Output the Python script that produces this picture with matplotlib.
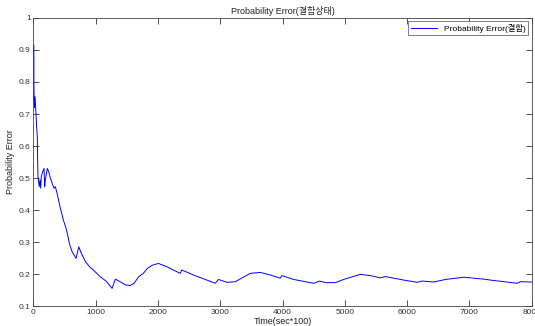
import numpy as np
import matplotlib
matplotlib.use("Agg")
import matplotlib.pyplot as plt

plt.rcParams['font.family'] = ['Liberation Sans', 'Noto Sans CJK KR']

# values
time = [0, 3, 6, 12, 25, 40, 50, 61, 67, 72, 93, 105, 116, 125, 148, 169, 180, 190,
        222, 244, 265, 297, 330, 350, 373, 426, 479, 523, 543, 576, 619, 683,
        727, 768, 833, 908, 961, 1069, 1177, 1262, 1315, 1391, 1476, 1551,
        1616, 1691, 1765, 1830, 1916, 2006, 2141, 2355, 2382, 2569, 2785,
        2918, 2971, 3106, 3240, 3481, 3642, 3802, 3963, 3990, 4177, 4498,
        4595, 4686, 4847, 4981, 5249, 5410, 5571, 5651, 5892, 5945, 6161,
        6241, 6428, 6616, 6910, 7071, 7232, 7339, 7553, 7768, 7817, 8000]
prob_err = [0.75, 0.916, 0.80, 0.72, 0.754, 0.70, 0.66, 0.63, 0.55, 0.504, 0.473, 0.494,
            0.468, 0.504, 0.52, 0.530, 0.473, 0.494, 0.53, 0.52, 0.504, 0.485,
            0.468, 0.473, 0.457, 0.41, 0.369, 0.343, 0.327, 0.296, 0.270, 0.249,
            0.285, 0.265, 0.239, 0.221, 0.2125, 0.192, 0.176, 0.155, 0.184, 0.176,
            0.166, 0.164, 0.171, 0.192, 0.202, 0.218, 0.228, 0.233, 0.223, 0.202,
            0.2125, 0.197, 0.181, 0.171, 0.183, 0.174, 0.176, 0.202, 0.205,
            0.197, 0.187, 0.195, 0.183, 0.171, 0.178, 0.173, 0.173, 0.183, 0.199,
            0.195, 0.188, 0.192, 0.183, 0.181, 0.174, 0.178, 0.175, 0.183, 0.190,
            0.187, 0.184, 0.181, 0.176, 0.171, 0.176, 0.175]

fig = plt.figure(figsize=(5.35, 3.26), dpi=100)
ax = fig.add_axes([0.0626, 0.0613, 0.9312, 0.8835])

ax.plot(time, prob_err, color='#0000ff', lw=0.7, label='Probability Error(결함)')

ax.set_xlim(0, 8000)
ax.set_ylim(0.1, 1.0)
ax.set_xticks(np.arange(0, 8001, 1000))
ax.set_yticks(np.arange(0.1, 1.01, 0.1))
ax.set_yticklabels(['0.1', '0.2', '0.3', '0.4', '0.5', '0.6', '0.7', '0.8', '0.9', '1'])

ax.tick_params(direction='in', top=True, right=True, labelsize=6, colors='#333333',
               length=4, width=0.6, pad=2)
for s in ax.spines.values():
    s.set_linewidth(0.6)
    s.set_color('#444444')

ax.set_title('Probability Error(결함상태)', fontsize=6.5, color='#222222', pad=3)
ax.set_xlabel('Time(sec*100)', fontsize=6.5, color='#222222', labelpad=1)
ax.set_ylabel('Probability Error', fontsize=6.5, color='#222222')
ax.yaxis.set_label_coords(-0.037, 0.5)

leg = ax.legend(loc='upper right', fontsize=6, frameon=True, fancybox=False,
                handlelength=3.2, borderpad=0.3, borderaxespad=0.4)
leg.get_frame().set_edgecolor('#444444')
leg.get_frame().set_linewidth(0.6)

fig.savefig('out.png', dpi=100)
